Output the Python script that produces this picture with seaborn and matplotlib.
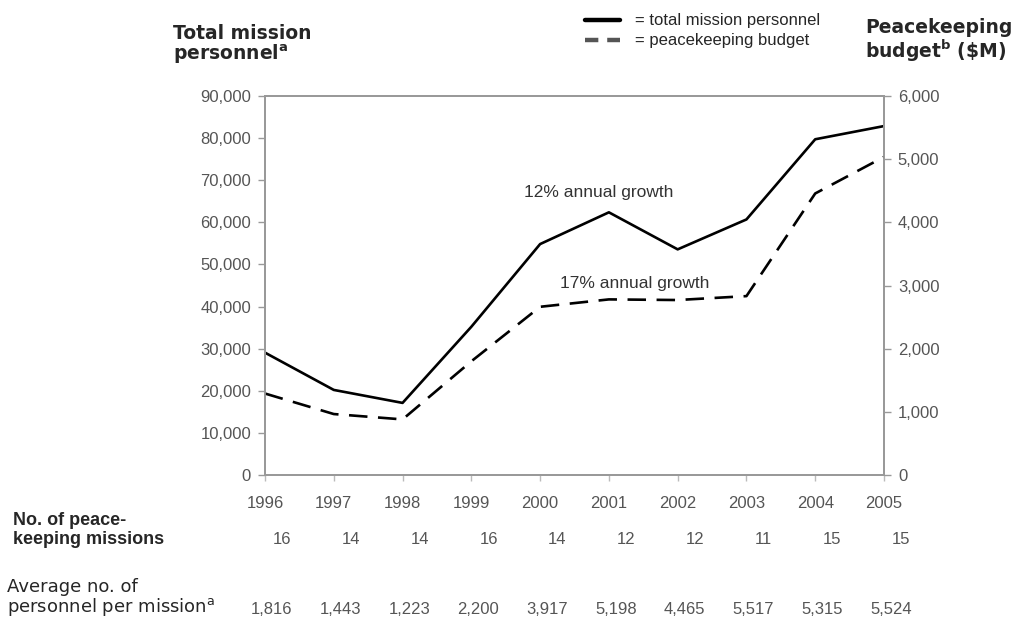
import numpy as np
import pandas as pd
import matplotlib
matplotlib.use('Agg')
import matplotlib.pyplot as plt
import matplotlib.transforms as mtransforms
import seaborn as sns

# data
years = [1996, 1997, 1998, 1999, 2000, 2001, 2002, 2003, 2004, 2005]
personnel = [29056, 20202, 17122, 35200, 54838, 62376, 53580, 60687, 79725, 82860]
budget = [1290, 965, 880, 1800, 2663, 2780, 2770, 2832, 4457, 5036]
missions = ['16', '14', '14', '16', '14', '12', '12', '11', '15', '15']
avg_personnel = ['1,816', '1,443', '1,223', '2,200', '3,917', '5,198', '4,465', '5,517', '5,315', '5,524']
left_ticks = [0, 10000, 20000, 30000, 40000, 50000, 60000, 70000, 80000, 90000]
right_ticks = [0, 1000, 2000, 3000, 4000, 5000, 6000]

df = pd.DataFrame({'year': years, 'personnel': personnel, 'budget': budget})

sns.set_theme(style='white')
arial = ['Liberation Sans', 'DejaVu Sans']
verdana = ['DejaVu Sans']
plt.rcParams['font.family'] = arial
plt.rcParams['mathtext.default'] = 'regular'

W, H = 1030, 621
fig = plt.figure(figsize=(W / 100, H / 100), dpi=100)
ax = fig.add_axes([265 / W, 1 - 475 / H, (884 - 265) / W, (475 - 96) / H])
ax2 = ax.twinx()

sns.lineplot(data=df, x='year', y='personnel', ax=ax, color='black', lw=1.9)
sns.lineplot(data=df, x='year', y='budget', ax=ax2, color='black', lw=1.9,
             linestyle=(0, (7, 4)))

ax.set_xlim(1996, 2005)
ax.set_ylim(0, 90000)
ax2.set_ylim(0, 6000)
ax.set_xticks(years)
ax.set_yticks(left_ticks)
ax2.set_yticks(right_ticks)
tick_col = '#555555'
ax.set_yticklabels([f'{t:,}' for t in left_ticks], fontsize=12, color=tick_col)
ax2.set_yticklabels([f'{t:,}' for t in right_ticks], fontsize=12, color=tick_col)
ax.set_xticklabels([str(y) for y in years], fontsize=12, color=tick_col)
ax.set_xlabel('')
ax.set_ylabel('')
ax2.set_ylabel('')

for a in (ax, ax2):
    for s in a.spines.values():
        s.set_color('#999999')
        s.set_linewidth(1.3)
ax.tick_params(axis='y', which='both', left=True, length=5, width=1, color='#999999', pad=5)
ax.tick_params(axis='x', which='both', bottom=True, length=4, width=1, color='#bbbbbb', pad=11)
ax2.tick_params(axis='y', which='both', right=True, length=5, width=1, color='#999999', pad=5)

# annotations
ax.text(1996 + (599 - 265) / 68.8, 67000, '12% annual growth', ha='center', va='center',
        fontsize=12.5, color='#333333')
ax.text(1996 + (635 - 265) / 68.8, 45400, '17% annual growth', ha='center', va='center',
        fontsize=12.5, color='#333333')

# axis titles
fig.text(173 / W, 1 - 45 / H, 'Total mission\npersonnel$^{a}$', ha='left', va='center',
         family=verdana, fontsize=13.5, fontweight='bold', linespacing=1.0)
fig.text(865 / W, 1 - 41 / H, 'Peacekeeping\nbudget$^{b}$ (\\$M)', ha='left', va='center',
         family=verdana, fontsize=13.5, fontweight='bold', linespacing=1.0)

# legend drawn by hand
fig.add_artist(plt.Line2D([585 / W, 620 / W], [1 - 20 / H, 1 - 20 / H],
                          color='black', lw=3.2))
fig.add_artist(plt.Line2D([585 / W, 620 / W], [1 - 40 / H, 1 - 40 / H],
                          color='#555555', lw=3.2, linestyle=(0, (3, 2))))
fig.text(635 / W, 1 - 20 / H, '= total mission personnel', ha='left', va='center', fontsize=12)
fig.text(635 / W, 1 - 40 / H, '= peacekeeping budget', ha='left', va='center', fontsize=12)

# table rows below the chart
trans = mtransforms.blended_transform_factory(ax.transData, fig.transFigure)
fig.text(13 / W, 1 - 530 / H, 'No. of peace-\nkeeping missions', ha='left', va='center',
         fontsize=13, fontweight='bold', linespacing=1.2)
for y, m in zip(years, missions):
    ax.text(y + 0.25, 1 - 540 / H, m, transform=trans, ha='center', va='center',
            fontsize=12, color=tick_col)

fig.text(7 / W, 1 - 598 / H, 'Average no. of\npersonnel per mission$^{a}$', ha='left', va='center',
         family=verdana, fontsize=13, linespacing=1.05)
for y, v in zip(years, avg_personnel):
    ax.text(y + 0.1, 1 - 610 / H, v, transform=trans, ha='center', va='center',
            fontsize=12, color=tick_col)

fig.savefig('out.png', dpi=100)
